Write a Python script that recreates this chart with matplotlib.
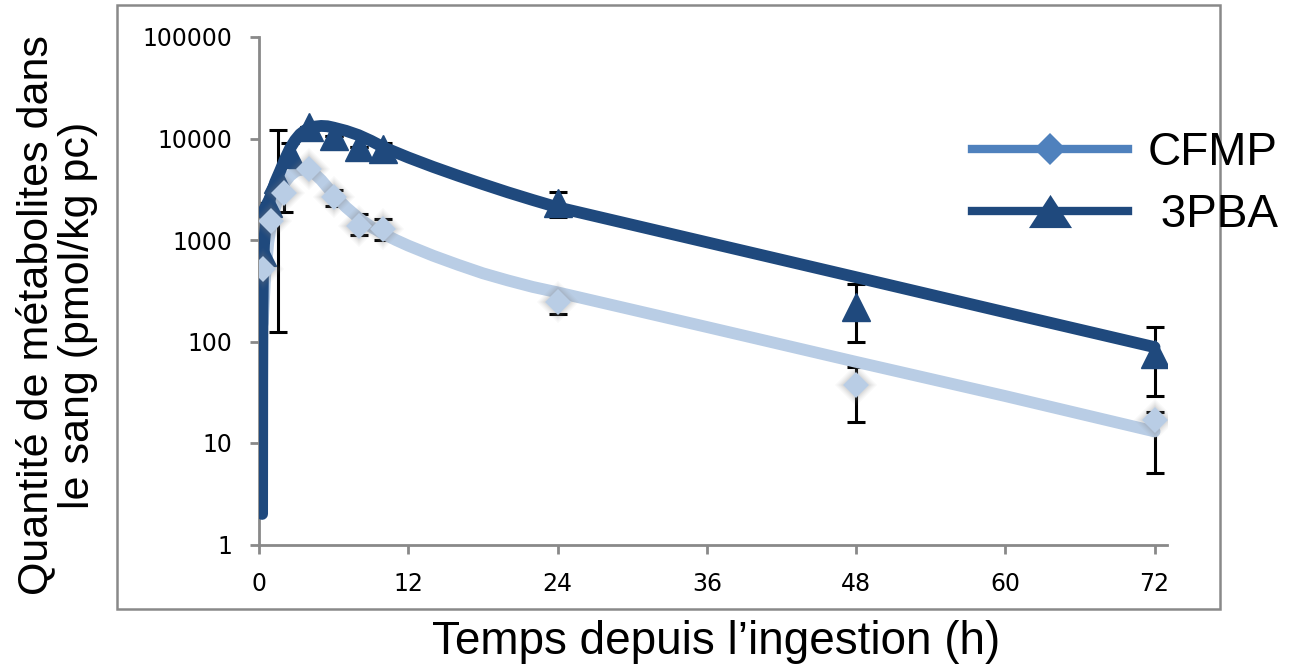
import numpy as np
import matplotlib.pyplot as plt
from matplotlib.lines import Line2D
from matplotlib.patches import Rectangle

# measured points (h, pmol/kg pc)
t_3pba = [0.25, 0.75, 1.5, 2.5, 4, 6, 8, 10, 24, 48, 72]
v_3pba = [760, 2300, 4000, 7000, 13000, 10500, 8300, 7900, 2300, 220, 75]
lo_3pba = [760, 2300, 123, 6000, 13000, 10500, 8300, 7000, 1670, 100, 29]
hi_3pba = [760, 2300, 12000, 9100, 13000, 10500, 8300, 9000, 3000, 365, 138]

t_cfmp = [0.33, 1, 2, 4, 6, 8, 10, 24, 48, 72]
v_cfmp = [515, 1540, 2900, 5000, 2650, 1370, 1280, 245, 37, 17]
lo_cfmp = [515, 1540, 1900, 5000, 2150, 1120, 1000, 185, 16, 5.1]
hi_cfmp = [515, 1540, 3000, 5000, 3100, 1800, 1600, 245, 56, 20]

# model curves
tfit_3pba = [0.25, 0.26, 0.28, 0.32, 0.4, 0.6, 0.9, 1.3, 1.7, 2.1, 2.5, 2.9, 3.3,
             3.7, 4, 4.5, 5, 5.5, 6, 7, 8, 9, 10, 11, 12, 14, 16, 18, 20, 22,
             24, 36, 48, 60, 72]
fit_3pba = [2, 40, 200, 500, 900, 1700, 2600, 3700, 4800, 6300, 8000, 9600, 11000,
            12000, 12600, 13100, 13300, 13200, 12800, 11900, 10800, 9500, 8200,
            7300, 6500, 5250, 4300, 3550, 2950, 2480, 2100, 950, 430, 194, 88]

tfit_cfmp = [0.3, 0.5, 0.75, 1, 1.5, 2, 2.5, 3, 3.7, 4.3, 5, 6, 7, 8, 9, 10, 11,
             12, 14, 16, 18, 20, 22, 24, 36, 48, 60, 72]
fit_cfmp = [150, 450, 950, 1500, 2600, 3600, 4300, 4800, 5000, 4700, 3900, 2800,
            2100, 1650, 1350, 1150, 1000, 880, 700, 570, 470, 400, 345, 305, 139,
            63, 29, 13]

xticks = [0, 12, 24, 36, 48, 60, 72]
yticks = [1, 10, 100, 1000, 10000, 100000]
ytick_labels = ["1", "10", "100", "1000", "10000", "100000"]

dark = "#1F497D"
light = "#B9CDE5"
mid = "#4F81BD"
grey = "#898989"

fig = plt.figure(figsize=(12.89, 6.71), dpi=100)
ax = fig.add_axes([259 / 1289, 1 - 544.5 / 671, 908 / 1289, 507.5 / 671])

def errs(v, lo, hi):
    v, lo, hi = map(np.asarray, (v, lo, hi))
    return [v - lo, hi - v]

ax.errorbar(t_3pba, v_3pba, yerr=errs(v_3pba, lo_3pba, hi_3pba), fmt="none",
            ecolor="black", elinewidth=2.2, capsize=6.5, capthick=2.2, zorder=1)
ax.errorbar(t_cfmp, v_cfmp, yerr=errs(v_cfmp, lo_cfmp, hi_cfmp), fmt="none",
            ecolor="black", elinewidth=2.2, capsize=6.5, capthick=2.2, zorder=1)

ax.plot(tfit_cfmp, fit_cfmp, color=light, lw=8.5, solid_capstyle="round",
        solid_joinstyle="round", zorder=2)
ax.plot(tfit_3pba, fit_3pba, color=dark, lw=8.5, solid_capstyle="round",
        solid_joinstyle="round", zorder=3)
ax.plot(t_3pba, v_3pba, ls="none", marker="^", ms=19.5, color=dark,
        mec=dark, zorder=4)

# soft shadow under the diamonds
for extra, a in [(8, 0.05), (6, 0.06), (4, 0.08), (2, 0.1)]:
    ax.plot(t_cfmp, v_cfmp, ls="none", marker="D", ms=13 + extra, color="grey",
            mew=0, alpha=a, zorder=4.5)
ax.plot(t_cfmp, v_cfmp, ls="none", marker="D", ms=13, color=light, mew=0,
        zorder=5)

ax.set_yscale("log")
ax.set_xlim(0, 73)
ax.set_ylim(1, 100000)
ax.set_xticks(xticks)
ax.set_yticks(yticks)
ax.set_yticklabels(ytick_labels)
ax.yaxis.set_minor_locator(plt.NullLocator())

for side in ["top", "right"]:
    ax.spines[side].set_visible(False)
for side in ["left", "bottom"]:
    ax.spines[side].set_color(grey)
    ax.spines[side].set_linewidth(2)
ax.tick_params(axis="both", direction="out", length=6.5, width=2, color=grey,
               labelsize=17, labelcolor="black")
ax.tick_params(axis="y", pad=13)
ax.tick_params(axis="x", pad=13)
ax.set_facecolor("none")

fig.text(57 / 1289, 1 - 315 / 671,
         "Quantité de métabolites dans\nle sang (pmol/kg pc)",
         rotation=90, ha="center", va="center", multialignment="center",
         fontsize=31, family="Liberation Sans", linespacing=1.05)
fig.text(716 / 1289, 1 - 642 / 671, "Temps depuis l’ingestion (h)",
         ha="center", va="center", fontsize=33, family="Liberation Sans")

# outer frame
fig.add_artist(Rectangle((117 / 1289, 1 - 609 / 671), 1103 / 1289, 604 / 671,
                         transform=fig.transFigure, fill=False, ec=grey, lw=1.8))

tri = [(-1, -0.77), (1, -0.77), (0, 0.77)]
handles = [
    Line2D([], [], color=mid, lw=6, marker="D", ms=16.8, mew=0),
    Line2D([], [], color=dark, lw=6, marker=tri, ms=31, mew=0),
]
fig.legend(handles, ["CFMP", " 3PBA"], loc="center left",
           bbox_to_anchor=(972 / 1289, 1 - 184 / 671), frameon=False,
           prop={"family": "Liberation Sans", "size": 33}, handlelength=3.4,
           handletextpad=0.44, labelspacing=0.4, borderpad=0, borderaxespad=0,
           numpoints=1)

fig.savefig("out.png", dpi=100)
